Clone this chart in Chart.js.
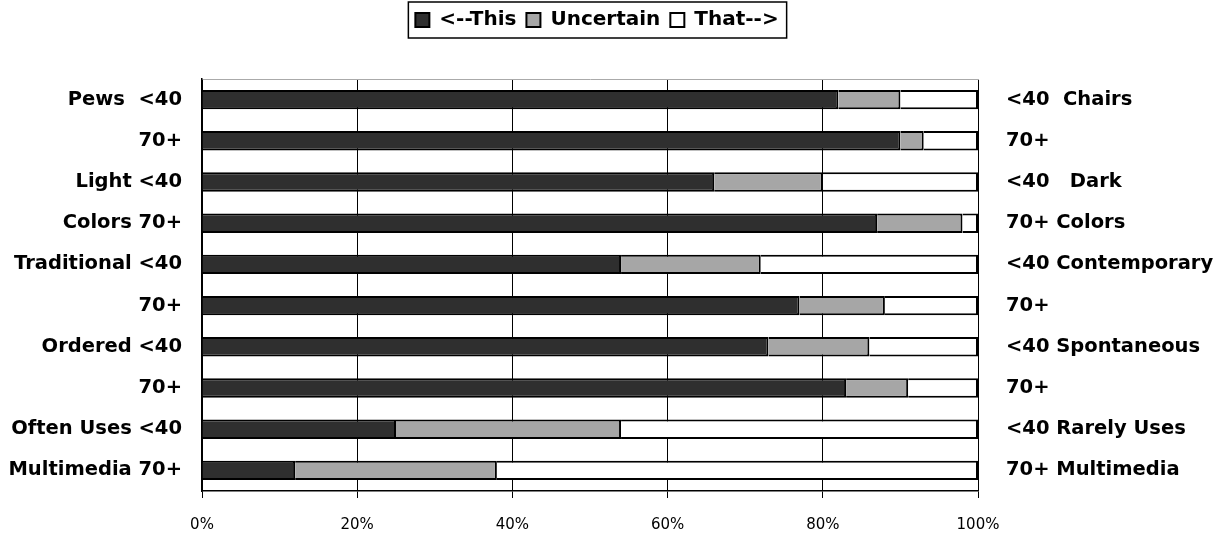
<!DOCTYPE html>
<html>
<head>
<meta charset="utf-8">
<script src="https://cdn.jsdelivr.net/npm/chart.js@4.4.1/dist/chart.umd.min.js"></script>
<style>
  html, body { margin: 0; padding: 0; background: #ffffff; }
  #wrap { width: 1228px; height: 534px; position: relative; }
</style>
</head>
<body>
<div id="wrap"><canvas id="chart"></canvas></div>
<script>
// Row labels, top to bottom
const leftLabels = ['Pews  <40', '70+', 'Light <40', 'Colors 70+', 'Traditional <40', '70+', 'Ordered <40', '70+', 'Often Uses <40', 'Multimedia 70+'];
const rightLabels = ['<40  Chairs', '70+', '<40   Dark', '70+ Colors', '<40 Contemporary', '70+', '<40 Spontaneous', '70+', '<40 Rarely Uses', '70+ Multimedia'];

// Series names and shares (percent of respondents)
const seriesNames = ['<--This', 'Uncertain', 'That-->'];
const thisPct      = [82, 90, 66, 87, 54, 77, 73, 83, 25, 12];
const uncertainPct = [ 8,  3, 14, 11, 18, 11, 13,  8, 29, 26];
const thatPct      = [10,  7, 20,  2, 28, 12, 14,  9, 46, 62];

// Percent ticks on the value axis
const xTicks = [0, 20, 40, 60, 80, 100];

const FONT = 'DejaVu Sans';

// Legend sits a little left of the canvas centre, above the plot
const legendShift = {
  id: 'legendShift',
  afterLayout(chart) {
    const lg = chart.legend;
    if (!lg) return;
    lg.left -= 17;
    lg.right -= 17;
  }
};

// Frame drawn around the legend items
const legendFrame = {
  id: 'legendFrame',
  afterDraw(chart) {
    const lg = chart.legend;
    if (!lg || !lg.legendHitBoxes || !lg.legendHitBoxes.length) return;
    const boxes = lg.legendHitBoxes;
    const first = boxes[0], last = boxes[boxes.length - 1];
    const x0 = first.left - 7;
    const x1 = last.left + last.width + 8;
    const y0 = first.top - 8;
    const y1 = first.top + first.height + 8;
    const ctx = chart.ctx;
    ctx.save();
    ctx.strokeStyle = '#000';
    ctx.lineWidth = 1.5;
    ctx.strokeRect(x0, y0, x1 - x0, y1 - y0);
    ctx.restore();
  }
};

new Chart(document.getElementById('chart'), {
  type: 'bar',
  data: {
    labels: leftLabels,
    datasets: [
      { label: seriesNames[0], data: thisPct,      backgroundColor: '#2f2f2f', borderColor: '#000', borderWidth: 2 },
      { label: seriesNames[1], data: uncertainPct, backgroundColor: '#a6a6a6', borderColor: '#000', borderWidth: 2 },
      { label: seriesNames[2], data: thatPct,      backgroundColor: '#ffffff', borderColor: '#000', borderWidth: 2 }
    ]
  },
  options: {
    indexAxis: 'y',
    responsive: true,
    maintainAspectRatio: false,
    animation: false,
    devicePixelRatio: 1,
    barPercentage: 0.47,
    categoryPercentage: 1.0,
    layout: { padding: { top: 0, right: 0, bottom: 0, left: 0 } },
    plugins: {
      tooltip: { enabled: false },
      legend: {
        display: true,
        position: 'top',
        weight: 3000,
        labels: {
          color: '#000',
          boxWidth: 14,
          boxHeight: 14,
          padding: 10,
          font: { family: FONT, weight: 'bold', size: 20 }
        }
      }
    },
    scales: {
      x: {
        type: 'linear',
        stacked: true,
        min: 0,
        max: 100,
        position: 'bottom',
        afterBuildTicks: s => { s.ticks = xTicks.map(v => ({ value: v })); },
        afterFit: s => { s.height = 43; },
        ticks: {
          color: '#000',
          padding: 18,
          font: { family: FONT, size: 15 },
          callback: v => v + '%'
        },
        grid: { color: '#000', lineWidth: 1, tickLength: 7, tickColor: '#000' },
        border: { display: true, color: '#000', width: 1.5 }
      },
      xTop: {
        type: 'linear',
        position: 'top',
        min: 0,
        max: 100,
        afterFit: s => { s.height = 39; },
        ticks: { display: false },
        grid: { display: false, drawTicks: false },
        border: { display: true, color: '#aaa', width: 1 }
      },
      y: {
        type: 'category',
        stacked: true,
        position: 'left',
        afterFit: s => { s.width = 202; },
        ticks: {
          color: '#000',
          padding: 20,
          font: { family: FONT, weight: 'bold', size: 19.5 }
        },
        grid: { display: false, drawTicks: false },
        border: { display: true, color: '#000', width: 1.5 }
      },
      yRight: {
        type: 'category',
        position: 'right',
        labels: rightLabels,
        offset: true,
        afterFit: s => { s.width = 250; },
        ticks: {
          color: '#000',
          padding: 28,
          font: { family: FONT, weight: 'bold', size: 19.5 }
        },
        grid: { display: false, drawTicks: false },
        border: { display: false }
      }
    }
  },
  plugins: [legendShift, legendFrame]
});
</script>
</body>
</html>
